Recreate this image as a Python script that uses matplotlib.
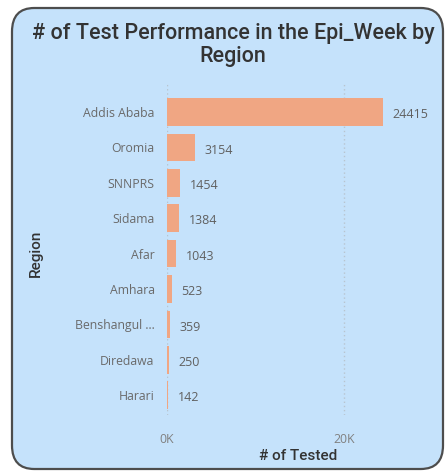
import matplotlib
matplotlib.use('Agg')
from matplotlib import pyplot as plt
from matplotlib.patches import FancyBboxPatch

regions = ['Addis Ababa', 'Oromia', 'SNNPRS', 'Sidama', 'Afar',
           'Amhara', 'Benshangul ...', 'Diredawa', 'Harari']
tested = [24415, 3154, 1454, 1384, 1043, 523, 359, 250, 142]
xticks = [0, 20000]
xticklabels = ['0K', '20K']

bg = '#c5e2fb'
bar_color = '#f0a683'
label_font = ['Open Sans', 'DejaVu Sans']
head_font = ['Roboto', 'DejaVu Sans']

W, H = 445, 473
fig = plt.figure(figsize=(W / 100, H / 100), dpi=100)
fig.patch.set_facecolor('white')

# rounded card behind the chart
card = FancyBboxPatch((12 / W, 4 / H), 431 / W, 461 / H,
                      boxstyle='round,pad=0,rounding_size=0.05',
                      transform=fig.transFigure, facecolor=bg,
                      edgecolor='#4d4d4d', linewidth=1.6, zorder=-10)
fig.patches.append(card)

ax = fig.add_axes([167 / W, 1 - 415 / H, 263 / W, 332 / H])
ax.set_facecolor('none')
ax.set_zorder(1)

y = list(range(len(regions)))
ax.barh(y, tested, height=0.78, color=bar_color, zorder=2)
for yi, v in zip(y, tested):
    ax.annotate(str(v), (v, yi), xytext=(7, -2), textcoords='offset points',
                va='center', ha='left', fontsize=9, color='#606060',
                family=label_font)

ax.set_ylim(len(regions) - 1 + 0.56, -0.82)
ax.set_xlim(0, 29700)
ax.set_yticks(y)
ax.set_yticklabels(regions, fontsize=8.8, color='#6a6a6a', family=label_font)
ax.set_xticks(xticks)
ax.set_xticklabels(xticklabels, fontsize=8.8, color='#808080', family=label_font)
ax.tick_params(axis='both', length=0)
ax.tick_params(axis='y', pad=9)
ax.tick_params(axis='x', pad=13)
ax.grid(axis='x', linestyle=(0, (1, 2)), color='#b8c4cf', linewidth=1, zorder=1)
ax.grid(axis='y', visible=False)
for s in ax.spines.values():
    s.set_visible(False)

ax.set_xlabel('# of Tested', fontsize=11, fontweight='medium', color='#333333',
              labelpad=2, family=head_font)
fig.text(36 / W, 1 - 253 / H, 'Region', rotation=90, ha='center', va='center',
         fontsize=11, fontweight='medium', color='#333333', family=head_font)

fig.text(233 / W, 1 - 45 / H, '# of Test Performance in the Epi_Week by\nRegion',
         ha='center', va='center', fontsize=15.5, fontweight='medium',
         color='#333333', linespacing=1.1, family=head_font)

fig.savefig('out.png', dpi=100, facecolor='white')
